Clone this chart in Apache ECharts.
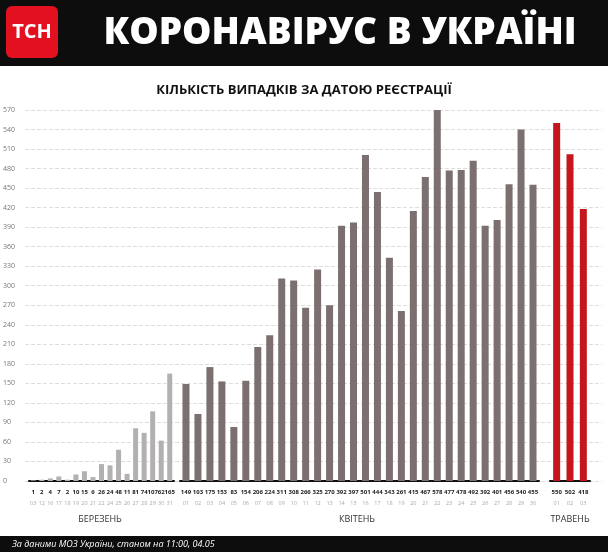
<!DOCTYPE html>
<html><head><meta charset="utf-8">
<script src="https://cdn.jsdelivr.net/npm/echarts@6/dist/echarts.min.js"></script>
<style>html,body{margin:0;padding:0;background:#fff}#c{width:608px;height:552px}</style>
</head><body><div id="c"></div>
<script>
// дані
var marDates = ['03','12','16','17','18','19','20','21','22','24','25','26','27','28','29','30','31'];
var marVals = [1,2,4,7,2,10,15,6,26,24,48,11,81,74,107,62,165];
var aprDates = ['01','02','03','04','05','06','07','08','09','10','11','12','13','14','15','16','17','18','19','20','21','22','23','24','25','26','27','28','29','30'];
var aprVals = [149,103,175,153,83,154,206,224,311,308,266,325,270,392,397,501,444,343,261,415,467,578,477,478,492,392,401,456,540,455];
var mayDates = ['01','02','03'];
var mayVals = [550,502,418];

var myChart = echarts.init(document.getElementById('c'));
var F = '"Open Sans", sans-serif';
var GB = 71, GT = 110;

function xax(i, dates, vals) {
    return {
        type: 'category', gridIndex: i, data: dates,
        axisLine: {lineStyle: {color: '#111', width: 2}},
        axisTick: {show: false},
        axisLabel: {
            interval: 0, margin: 6,
            formatter: function (v, idx) { return '{a|' + vals[idx] + '}\n{b|' + v + '}'; },
            rich: {
                a: {fontFamily: F, fontWeight: 'bold', fontSize: 6, color: '#222', lineHeight: 11},
                b: {fontFamily: F, fontSize: 5.5, color: '#aaa', lineHeight: 10}
            }
        }
    };
}
function yax(i) {
    return {type: 'value', gridIndex: i, min: 0, max: 570, interval: 30, show: false};
}

var option = {
    backgroundColor: '#fff',
    animation: false,
    grid: [
        {left: 29, right: 608 - 174, top: GT, bottom: GB},
        {left: 180, right: 608 - 539, top: GT, bottom: GB},
        {left: 550, right: 608 - 590, top: GT, bottom: GB},
        {left: 22, right: 6, top: GT, bottom: GB}
    ],
    xAxis: [
        xax(0, marDates, marVals), xax(1, aprDates, aprVals), xax(2, mayDates, mayVals),
        {type: 'value', gridIndex: 3, show: false}
    ],
    yAxis: [yax(0), yax(1), yax(2), {
        type: 'value', gridIndex: 3, min: 0, max: 570, interval: 30,
        axisLine: {show: false}, axisTick: {show: false},
        axisLabel: {fontFamily: F, fontSize: 7, color: '#777', margin: 4, align: 'left',
            padding: [0, 0, 0, -18]},
        splitLine: {lineStyle: {color: '#ddd', type: 'dashed'}}
    }],
    series: [
        {type: 'bar', xAxisIndex: 0, yAxisIndex: 0, data: marVals, barWidth: 5, itemStyle: {color: '#b3b0b0'}, z: 3},
        {type: 'bar', xAxisIndex: 1, yAxisIndex: 1, data: aprVals, barWidth: 7, itemStyle: {color: '#7b6f6f'}, z: 3},
        {type: 'bar', xAxisIndex: 2, yAxisIndex: 2, data: mayVals, barWidth: 7, itemStyle: {color: '#c4161c'}, z: 3}
    ],
    graphic: [
        {type: 'rect', shape: {x: 0, y: 0, width: 608, height: 66}, style: {fill: '#0d0d0d'}},
        {type: 'rect', shape: {x: 6, y: 6, width: 52, height: 52, r: 6}, style: {fill: '#e3101f'}},
        {type: 'text', x: 32, y: 32, style: {text: 'ТСН', fill: '#fff', font: 'bold 20px ' + F, align: 'center', verticalAlign: 'middle'}},
        {type: 'text', x: 340, y: 33, style: {text: 'КОРОНАВІРУС В УКРАЇНІ', fill: '#fff', font: '800 37px ' + F, align: 'center', verticalAlign: 'middle'}},
        {type: 'text', x: 304, y: 90, style: {text: 'КІЛЬКІСТЬ ВИПАДКІВ ЗА ДАТОЮ РЕЄСТРАЦІЇ', fill: '#111', font: 'bold 13px ' + F, align: 'center', verticalAlign: 'middle'}},
        {type: 'text', x: 100, y: 519, style: {text: 'БЕРЕЗЕНЬ', fill: '#333', font: '9px ' + F, align: 'center', verticalAlign: 'middle'}},
        {type: 'text', x: 357, y: 519, style: {text: 'КВІТЕНЬ', fill: '#333', font: '9px ' + F, align: 'center', verticalAlign: 'middle'}},
        {type: 'text', x: 570, y: 519, style: {text: 'ТРАВЕНЬ', fill: '#333', font: '9px ' + F, align: 'center', verticalAlign: 'middle'}},
        {type: 'rect', shape: {x: 0, y: 536, width: 608, height: 16}, style: {fill: '#0d0d0d'}},
        {type: 'text', x: 12, y: 544, style: {text: 'За даними МОЗ України, станом на 11:00, 04.05', fill: '#fff', font: 'italic 9px ' + F, verticalAlign: 'middle'}}
    ]
};
myChart.setOption(option);
window.onresize = function () { myChart.resize(); };
</script></body></html>
